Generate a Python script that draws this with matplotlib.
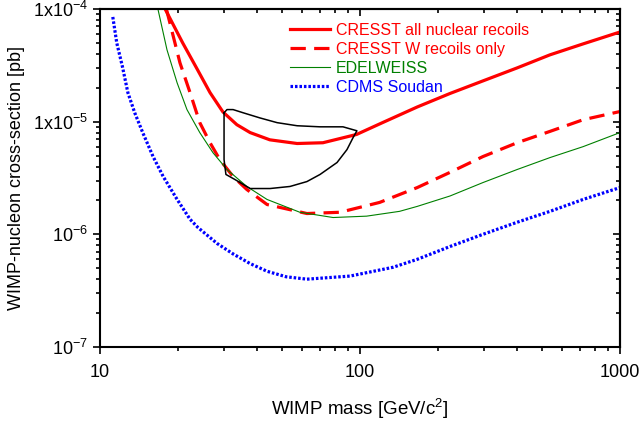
import matplotlib.pyplot as plt
import numpy as np
from matplotlib.ticker import FixedLocator, LogLocator, NullFormatter

plt.rcParams['font.family'] = ['Liberation Sans', 'DejaVu Sans']
plt.rcParams['mathtext.fontset'] = 'custom'
plt.rcParams['mathtext.rm'] = 'Liberation Sans'
plt.rcParams['mathtext.it'] = 'Liberation Sans:italic'
plt.rcParams['mathtext.bf'] = 'Liberation Sans:bold'

# CRESST, all nuclear recoils
cresst_all_m = [17.8, 20.8, 23.6, 26.5, 29.7, 33.6, 37.8, 45.0, 57.3, 72.0, 97.0, 122, 166, 222, 297, 402, 538, 721, 1000]
cresst_all_s = [1.0e-4, 5.0e-5, 2.95e-5, 1.81e-5, 1.22e-5, 9.4e-6, 8.0e-6, 6.9e-6, 6.4e-6, 6.5e-6, 7.7e-6,
                9.8e-6, 1.35e-5, 1.78e-5, 2.3e-5, 3.0e-5, 3.92e-5, 4.9e-5, 6.25e-5]

# CRESST, W recoils only
cresst_w_m = [18.0, 20.3, 22.2, 24.2, 26.5, 28.9, 32.5, 36.7, 43.9, 62.5, 83.8, 119, 166, 222, 297, 402, 538, 721, 1000]
cresst_w_s = [1.0e-4, 3.33e-5, 1.81e-5, 9.8e-6, 6.5e-6, 4.6e-6, 3.26e-6, 2.5e-6, 1.84e-6, 1.53e-6, 1.57e-6,
              1.92e-6, 2.6e-6, 3.55e-6, 4.9e-6, 6.5e-6, 8.2e-6, 1.04e-5, 1.23e-5]

# EDELWEISS
edw_m = [16.7, 18.1, 19.8, 21.6, 24.2, 27.2, 30.8, 36.7, 43.9, 58.7, 78.8, 106, 142, 166, 222, 297, 402, 538, 721, 1000]
edw_s = [1.0e-4, 4.34e-5, 2.21e-5, 1.28e-5, 8.0e-6, 5.3e-6, 3.76e-6, 2.66e-6, 2.04e-6, 1.57e-6, 1.41e-6,
         1.45e-6, 1.6e-6, 1.77e-6, 2.19e-6, 2.88e-6, 3.76e-6, 4.8e-6, 6.0e-6, 8.0e-6]

# CDMS Soudan
cdms_m = [11.2, 11.6, 12.2, 12.8, 13.6, 14.6, 16.0, 17.5, 19.8, 22.2, 23.8, 28.2, 32.5, 37.8, 43.9, 52.0,
          62.5, 91.5, 134, 166, 222, 297, 402, 538, 721, 1000]
cdms_s = [8.5e-5, 5.0e-5, 3.07e-5, 1.81e-5, 1.2e-5, 8.0e-6, 4.9e-6, 3.26e-6, 2.04e-6, 1.36e-6, 1.15e-6,
          8.3e-7, 6.7e-7, 5.5e-7, 4.7e-7, 4.2e-7, 4.0e-7, 4.26e-7, 5.1e-7, 6.0e-7, 7.8e-7, 1.0e-6, 1.28e-6,
          1.6e-6, 2.04e-6, 2.6e-6]

# allowed region (closed contour)
region_m = [30.0, 30.8, 32.5, 35.5, 41.2, 48.0, 57.3, 70.2, 86.0, 97.3, 94.0, 89.1, 81.6, 70.2,
            62.5, 53.8, 45.1, 37.8, 33.0, 30.5, 30.0, 30.0]
region_s = [1.2e-5, 1.28e-5, 1.28e-5, 1.2e-5, 1.08e-5, 9.8e-6, 9.2e-6, 9.0e-6, 9.0e-6, 8.3e-6, 7.2e-6,
            5.65e-6, 4.34e-6, 3.4e-6, 2.94e-6, 2.66e-6, 2.55e-6, 2.55e-6, 3.07e-6, 3.4e-6, 4.6e-6, 1.2e-5]

fig = plt.figure(figsize=(6.41, 4.23), dpi=100)
ax = fig.add_axes([100 / 641, 1 - 347 / 423, 520 / 641, 338 / 423])

ax.plot(cresst_all_m, cresst_all_s, color='#ff0000', lw=2.3, label='CRESST all nuclear recoils')
ax.plot(cresst_w_m, cresst_w_s, color='#ff0000', lw=2.3, ls=(0, (4.8, 2.6)), label='CRESST W recoils only')
ax.plot(edw_m, edw_s, color='#008000', lw=0.8, label='EDELWEISS')
ax.plot(cdms_m, cdms_s, color='#0000ff', lw=2.3, ls=(0, (0.8, 0.6)), label='CDMS Soudan')
ax.plot(region_m, region_s, color='black', lw=1.1)

ax.set_xscale('log')
ax.set_yscale('log')
ax.set_xlim(10, 1000)
ax.set_ylim(1e-7, 1e-4)

ax.xaxis.set_major_locator(FixedLocator([10, 100, 1000]))
ax.set_xticklabels(['10', '100', '1000'])
ax.yaxis.set_major_locator(FixedLocator([1e-7, 1e-6, 1e-5, 1e-4]))
ax.set_yticklabels([r'10$^{-7}$', r'10$^{-6}$', r'1x10$^{-5}$', r'1x10$^{-4}$'])
ax.xaxis.set_minor_locator(LogLocator(base=10, subs=np.arange(2, 10)))
ax.yaxis.set_minor_locator(LogLocator(base=10, subs=np.arange(2, 10)))
ax.xaxis.set_minor_formatter(NullFormatter())
ax.yaxis.set_minor_formatter(NullFormatter())

ax.tick_params(which='both', direction='out', top=False, right=False, labelsize=13, width=1.2)
ax.tick_params(which='major', length=5)
ax.tick_params(which='minor', length=3)
ax.tick_params(axis='x', pad=7)

# inward ticks on top and right
sec_x = ax.secondary_xaxis('top')
sec_x.xaxis.set_major_locator(FixedLocator([10, 100, 1000]))
sec_x.xaxis.set_minor_locator(LogLocator(base=10, subs=np.arange(2, 10)))
sec_x.tick_params(which='both', direction='in', labeltop=False, width=1.2)
sec_x.tick_params(which='major', length=5)
sec_x.tick_params(which='minor', length=3)
sec_x.xaxis.set_minor_formatter(NullFormatter())
sec_x.xaxis.set_major_formatter(NullFormatter())
sec_y = ax.secondary_yaxis('right')
sec_y.yaxis.set_major_locator(FixedLocator([1e-7, 1e-6, 1e-5, 1e-4]))
sec_y.yaxis.set_minor_locator(LogLocator(base=10, subs=np.arange(2, 10)))
sec_y.tick_params(which='both', direction='in', labelright=False, width=1.2)
sec_y.tick_params(which='major', length=5)
sec_y.tick_params(which='minor', length=3)
sec_y.yaxis.set_minor_formatter(NullFormatter())
sec_y.yaxis.set_major_formatter(NullFormatter())

for s in list(ax.spines.values()) + list(sec_x.spines.values()) + list(sec_y.spines.values()):
    s.set_linewidth(1.5)

ax.set_xlabel(r'WIMP mass [GeV/c$^{2}$]', fontsize=13.5, labelpad=12)
ax.set_ylabel('WIMP-nucleon cross-section [pb]', fontsize=13, labelpad=6)

leg = ax.legend(loc='upper left', bbox_to_anchor=(0.365, 0.96), frameon=False, fontsize=11.5,
                handlelength=2.5, handletextpad=0.4, labelspacing=0.26, borderpad=0, borderaxespad=0)
for txt, line in zip(leg.get_texts(), leg.get_lines()):
    txt.set_color(line.get_color())

fig.savefig('out.png', dpi=100)
